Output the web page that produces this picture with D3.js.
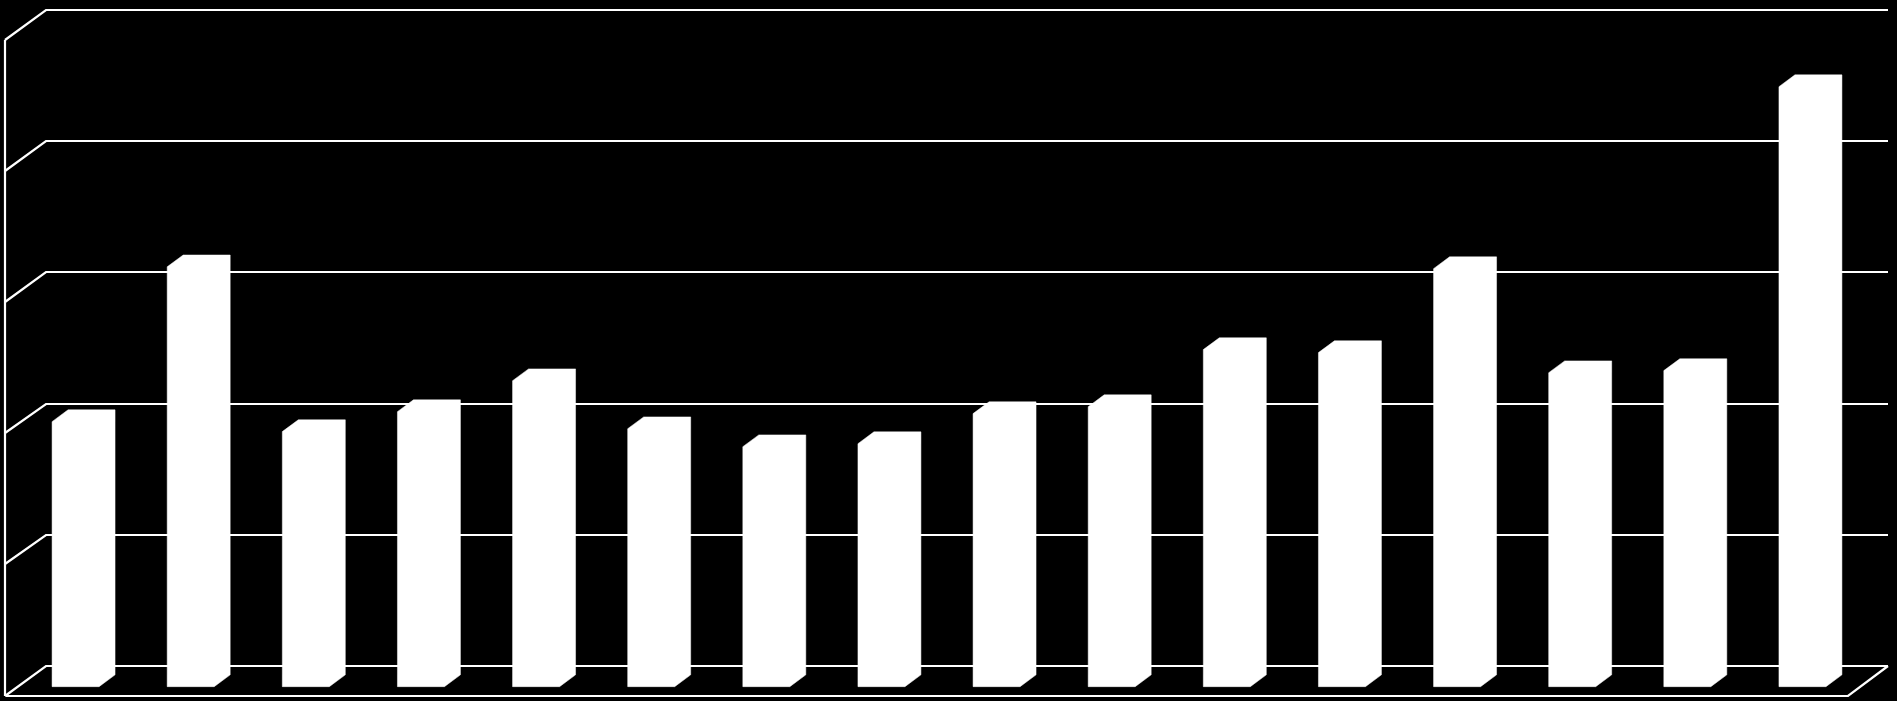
<!DOCTYPE html>
<html>
<head>
<meta charset="utf-8">
<script src="https://cdn.jsdelivr.net/npm/d3@7"></script>
<style>
  html, body { margin: 0; padding: 0; background: #000; }
  svg { display: block; }
</style>
</head>
<body>
<svg id="chart" width="1897" height="701"></svg>
<script>
const categories = ["1","2","3","4","5","6","7","8","9","10","11","12","13","14","15","16"];
const values = [2.02, 3.20, 1.944, 2.096, 2.332, 1.966, 1.829, 1.852, 2.081, 2.134, 2.569, 2.546, 3.186, 2.393, 2.409, 4.573];
const tickValues = [0, 1, 2, 3, 4, 5];

const W = 1897, H = 701;
const svg = d3.select("#chart");
svg.append("rect").attr("width", W).attr("height", H).attr("fill", "#000");

// 3D projection: depth d in [0,1] (0 = front, 1 = back wall)
const DX = 40, DY = 29.5;
const frontLeft = 6, frontRight = 1848;
const y = d3.scaleLinear().domain([0, 5]).range([666, 10]); // on back wall
const x = d3.scaleBand().domain(categories).range([frontLeft, frontRight])
  .paddingInner(0.592).paddingOuter(0.296);

const px = (xv, d) => xv + DX * d;
const py = (v, d) => y(v) + DY * (1 - d);
const r = p => [Math.round(p[0]), Math.round(p[1])];

const line = d3.line();
const grid = svg.append("g").attr("stroke", "#fff").attr("stroke-width", 2.2).attr("fill", "none");

// Back wall gridlines + left wall slants
tickValues.forEach(t => {
  grid.append("path").attr("d", line([[px(frontLeft, 0) - 1, py(t, 0)], [px(frontLeft, 1), py(t, 1)], [px(frontRight, 1), py(t, 1)]].map(r)))
    .attr("stroke-linejoin", "miter");
});
// left wall front vertical edge
grid.append("path").attr("d", line([[px(frontLeft, 0) - 1, py(5, 0)], [px(frontLeft, 0) - 1, py(0, 0)]].map(r)));
// floor front edge and right slant
grid.append("path").attr("d", line([[px(frontLeft, 0), py(0, 0)], [px(frontRight, 0), py(0, 0)], [px(frontRight, 1), py(0, 1)]].map(r)));

// Bars (depth 0.3 to 0.7)
const d0 = 0.3, d1 = 0.7;
const bw = x.bandwidth();
svg.append("g").selectAll("path").data(values).join("path")
  .attr("fill", "#fff")
  .attr("stroke", "#fff")
  .attr("stroke-width", 0.5)
  .attr("d", (v, i) => {
    const a = x(categories[i]);
    const pts = [
      [px(a, d0), py(0, d0)],
      [px(a + bw, d0), py(0, d0)],
      [px(a + bw, d1), py(0, d1)],
      [px(a + bw, d1), py(v, d1)],
      [px(a, d1), py(v, d1)],
      [px(a, d0), py(v, d0)]
    ];
    return line(pts) + "Z";
  });
</script>
</body>
</html>
